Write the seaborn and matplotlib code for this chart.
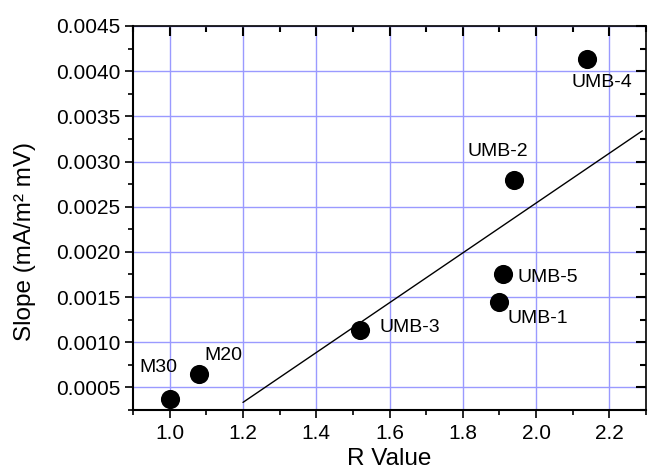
import numpy as np
import pandas as pd
import seaborn as sns
from matplotlib import pyplot as plt
from matplotlib import lines as mlines
from matplotlib.ticker import MultipleLocator, FormatStrFormatter

# data
samples = ["M30", "M20", "UMB-3", "UMB-1", "UMB-5", "UMB-2", "UMB-4"]
r_value = [1.00, 1.08, 1.52, 1.90, 1.91, 1.94, 2.14]
slope = [0.000375, 0.00065, 0.00114, 0.00145, 0.00175, 0.0028, 0.00414]
fit_x = [1.20, 2.29]
fit_y = [0.000334, 0.00334]

sns.set_theme(style="white", rc={"axes.edgecolor": "#000000", "axes.linewidth": 1.5,
                                 "text.color": "black", "axes.labelcolor": "black",
                                 "xtick.color": "black", "ytick.color": "black",
                                 "xtick.direction": "out", "ytick.direction": "out",
                                 "xtick.bottom": True, "ytick.left": True,
                                 "xtick.top": True, "ytick.right": True})
plt.rcParams["font.family"] = ["Liberation Sans", "DejaVu Sans"]

df = pd.DataFrame({"sample": samples, "r": r_value, "slope": slope})

fig = plt.figure(figsize=(6.49, 4.70), dpi=100)
ax = fig.add_axes([0.205, 0.1277, 0.7904, 0.817])

ax.grid(True, which="major", color="#9a9aff", lw=1)
ax.set_axisbelow(True)

ax.plot(fit_x, fit_y, color="black", lw=1, zorder=2)
sns.scatterplot(data=df, x="r", y="slope", s=190, color="black", edgecolor="black",
                linewidth=0, zorder=3, ax=ax, legend=False)

# label offsets in pixels
offsets = {"M30": (-11, 31, "center"), "M20": (5, 18, "left"), "UMB-3": (19, 2, "left"),
           "UMB-1": (8, -17, "left"), "UMB-5": (14, -3, "left"), "UMB-2": (-16, 28, "center"),
           "UMB-4": (14, -24, "center")}
for name, xv, yv in zip(samples, r_value, slope):
    dx, dy, ha = offsets[name]
    ax.annotate(name, xy=(xv, yv), xytext=(dx, dy), textcoords="offset pixels",
                ha=ha, va="center", fontsize=14, color="black")

ax.set_xlim(0.9, 2.3)
ax.set_ylim(0.00025, 0.0045)
ax.xaxis.set_major_locator(MultipleLocator(0.2))
ax.xaxis.set_minor_locator(MultipleLocator(0.1))
ax.yaxis.set_major_locator(MultipleLocator(0.0005))
ax.yaxis.set_minor_locator(MultipleLocator(0.00025))
ax.xaxis.set_major_formatter(FormatStrFormatter("%.1f"))
ax.yaxis.set_major_formatter(FormatStrFormatter("%.4f"))

ax.tick_params(axis="both", which="major", length=6, width=1.2, labelsize=15, color="black")
ax.tick_params(axis="both", which="minor", length=3.5, width=1.2, color="black")
ax.tick_params(axis="x", which="both", top=True, bottom=True, labeltop=False, pad=4)
ax.tick_params(axis="y", which="both", right=True, left=True, labelright=False, pad=3)

for spine in ax.spines.values():
    spine.set_visible(True)
    spine.set_color("black")
ax.spines["top"].set_linewidth(1.2)
ax.spines["right"].set_linewidth(1.2)

ax.set_xlabel("R Value", fontsize=17.5, labelpad=4)
ax.set_ylabel("Slope (mA/m² mV)", fontsize=17.5)
ax.yaxis.set_label_coords(-0.19, 0.44)

# top and right ticks point inward, bottom and left outward
fig.canvas.draw()
for ticks, size in ((ax.xaxis.get_major_ticks(), 7), (ax.xaxis.get_minor_ticks(), 4)):
    for t in ticks:
        t.tick2line.set_marker(mlines.TICKDOWN)
        t.tick2line.set_markersize(size)
        t.tick2line.set_markeredgewidth(1.5)
for ticks, size in ((ax.yaxis.get_major_ticks(), 7), (ax.yaxis.get_minor_ticks(), 4)):
    for t in ticks:
        t.tick2line.set_marker(mlines.TICKLEFT)
        t.tick2line.set_markersize(size)
        t.tick2line.set_markeredgewidth(1.5)

fig.savefig("out.png", dpi=100)
